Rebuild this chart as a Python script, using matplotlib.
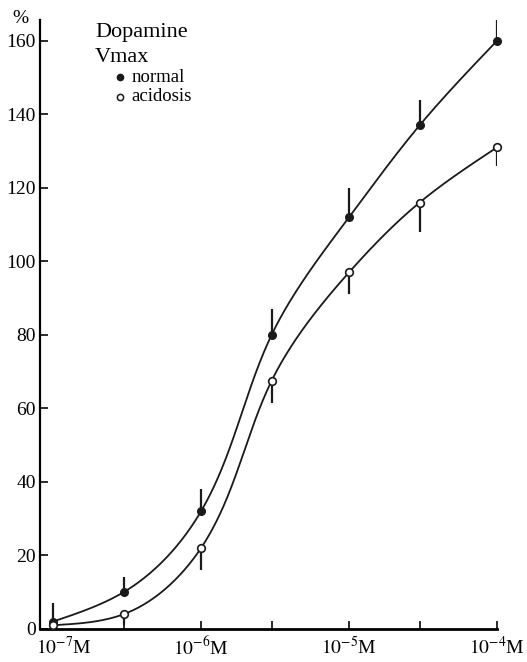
import numpy as np
import matplotlib
matplotlib.use('Agg')
import matplotlib.pyplot as plt
import matplotlib.transforms as mtrans

plt.rcParams['font.family'] = ['Liberation Serif', 'DejaVu Serif']
plt.rcParams['mathtext.fontset'] = 'stix'

# dopamine concentration (M)
conc = [1e-7, 3e-7, 1e-6, 3e-6, 1e-5, 3e-5, 1e-4]
normal = [2, 10, 32, 80, 112, 137, 160]
normal_err = [5, 4, 6, 7, 8, 7, 6]
acidosis = [1, 4, 22, 67.5, 97, 116, 131]
acidosis_err = [0, 3, 6, 6, 6, 8, 5]

xtick_vals = [1e-7, 1e-6, 1e-5, 1e-4]
xtick_labels = [r'$10^{-7}$M', r'$10^{-6}$M', r'$10^{-5}$M', r'$10^{-4}$M']
yticks = [0, 20, 40, 60, 80, 100, 120, 140, 160]


def natural_spline(t, y, ts):
    t = np.asarray(t, float)
    y = np.asarray(y, float)
    n = len(t)
    h = np.diff(t)
    A = np.zeros((n, n))
    b = np.zeros(n)
    A[0, 0] = A[-1, -1] = 1
    for i in range(1, n - 1):
        A[i, i - 1] = h[i - 1]
        A[i, i] = 2 * (h[i - 1] + h[i])
        A[i, i + 1] = h[i]
        b[i] = 6 * ((y[i + 1] - y[i]) / h[i] - (y[i] - y[i - 1]) / h[i - 1])
    M = np.linalg.solve(A, b)
    k = np.clip(np.searchsorted(t, ts) - 1, 0, n - 2)
    a = t[k + 1] - ts
    c = ts - t[k]
    hk = h[k]
    return (M[k] * a ** 3 / (6 * hk) + M[k + 1] * c ** 3 / (6 * hk)
            + (y[k] / hk - M[k] * hk / 6) * a + (y[k + 1] / hk - M[k + 1] * hk / 6) * c)


def smooth_curve(x, y, n=400):
    # parametric spline on chord length, x/y scaled roughly like the page
    px = np.log10(x) * 148.0
    py = np.asarray(y, float) * 3.675
    t = np.concatenate([[0], np.cumsum(np.hypot(np.diff(px), np.diff(py)))])
    ts = np.linspace(0, t[-1], n)
    return 10 ** (natural_spline(t, px, ts) / 148.0), natural_spline(t, py, ts) / 3.675


fig = plt.figure(figsize=(5.27, 6.62), dpi=100)
ax = fig.add_axes([0.076, 0.05, 0.867, 0.92])

for vals in (normal, acidosis):
    cx, cy = smooth_curve(conc, vals)
    ax.plot(cx, cy, color='#1a1a1a', lw=1.3, zorder=2)

ax.vlines(conc, normal, np.array(normal) + np.array(normal_err), color='#1a1a1a', lw=1.6, zorder=3)
ax.vlines(conc, np.array(acidosis) - np.array(acidosis_err), acidosis, color='#1a1a1a', lw=1.6, zorder=3)
ax.plot(conc, normal, 'o', color='#1a1a1a', ms=5.5, zorder=4, clip_on=False)
ax.plot(conc, acidosis, 'o', mfc='white', mec='#1a1a1a', mew=1.2, ms=5.5, zorder=4, clip_on=False)

ax.set_xscale('log')
ax.set_xlim(10 ** -7.088, 1e-4)
ax.set_ylim(0, 165.7)
ax.set_xticks(xtick_vals)
ax.set_xticklabels(xtick_labels, fontsize=14)
ax.set_xticks([3e-7, 3e-6, 3e-5], minor=True)
ax.xaxis.set_minor_formatter(matplotlib.ticker.NullFormatter())
ax.set_yticks(yticks)
ax.set_yticklabels([str(v) for v in yticks], fontsize=14)
ax.tick_params(axis='both', which='both', direction='in', length=6, width=1.3, color='#1a1a1a')
ax.tick_params(axis='x', pad=5)
ax.tick_params(axis='y', pad=3)
# first x label sits a little to the right, clear of the 0
lab0 = ax.get_xticklabels()[0]
lab0.set_transform(lab0.get_transform() + mtrans.ScaledTranslation(0.11, 0, fig.dpi_scale_trans))
for s in ('top', 'right'):
    ax.spines[s].set_visible(False)
ax.spines['left'].set_linewidth(1.6)
ax.spines['bottom'].set_linewidth(2.0)

# legend written as text
ax.text(-0.042, 1.003, '%', transform=ax.transAxes, fontsize=14, ha='center', va='center')
ax.text(0.12, 0.979, 'Dopamine', transform=ax.transAxes, fontsize=16, va='center')
ax.text(0.12, 0.939, 'Vmax', transform=ax.transAxes, fontsize=16, va='center')
ax.plot([0.175], [0.906], 'o', color='#1a1a1a', ms=4.5, transform=ax.transAxes, clip_on=False)
ax.text(0.2, 0.906, 'normal', transform=ax.transAxes, fontsize=13.5, va='center')
ax.plot([0.175], [0.874], 'o', mfc='white', mec='#1a1a1a', mew=1.1, ms=4.5, transform=ax.transAxes, clip_on=False)
ax.text(0.2, 0.874, 'acidosis', transform=ax.transAxes, fontsize=13.5, va='center')

fig.savefig('out.png', dpi=100)
